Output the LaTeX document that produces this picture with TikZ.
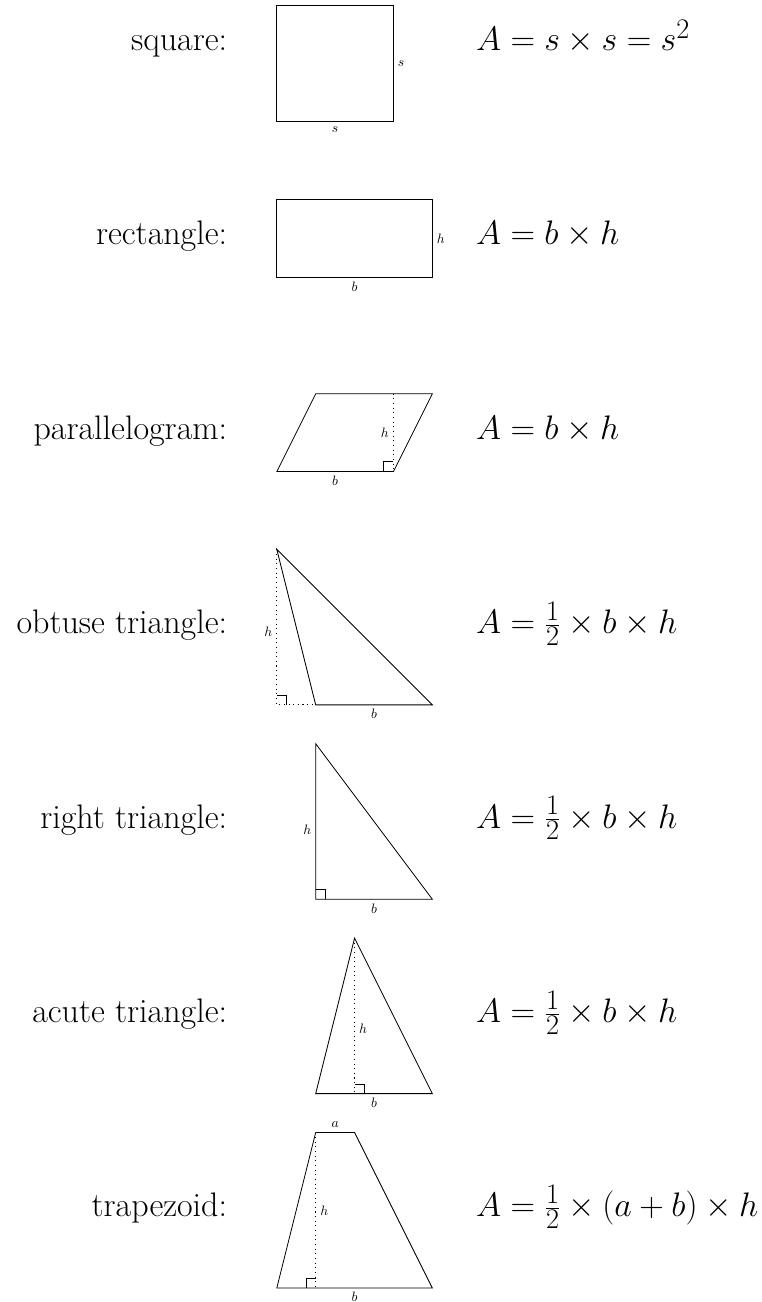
\documentclass[tikz,border=0pt]{standalone}
\usepackage{xcolor}
\usepackage{tikz}

\begin{document}
\begin{tikzpicture}[line width=0.6pt,
        shapename/.style={anchor=base east, font=\Huge},
        formula/.style={anchor=base west, font=\Huge},
        lbl/.style={font=\normalsize, inner sep=3pt},
        alt/.style={line width=0.75pt, dash pattern=on 0.75pt off 2.65pt},
        ra/.style={line width=0.6pt}]
        \useasboundingbox (-7.12,-33.36) rectangle (12.47,0.13);

        % names and formulas
        \node (t1) [shapename] at (-1.15,-1.17) {square:};
        \node (f1) [formula] at (5,-1.17) {$A = s \times s = s^2$};
        \node (t2) [shapename] at (-1.15,-6.17) {rectangle:};
        \node (f2) [formula] at (5,-6.17) {$A = b \times h$};
        \node (t3) [shapename] at (-1.15,-11.17) {parallelogram:};
        \node (f3) [formula] at (5,-11.17) {$A = b \times h$};
        \node (t4) [shapename] at (-1.15,-16.17) {obtuse triangle:};
        \node (f4) [formula] at (5,-16.17) {$A = \frac{1}{2} \times b \times h$};
        \node (t5) [shapename] at (-1.15,-21.17) {right triangle:};
        \node (f5) [formula] at (5,-21.17) {$A = \frac{1}{2} \times b \times h$};
        \node (t6) [shapename] at (-1.15,-26.17) {acute triangle:};
        \node (f6) [formula] at (5,-26.17) {$A = \frac{1}{2} \times b \times h$};
        \node (t7) [shapename] at (-1.15,-31.17) {trapezoid:};
        \node (f7) [formula] at (5,-31.17) {$A = \frac{1}{2} \times (a + b) \times h$};

        % square
        \draw (0,-3) -- node (sq-b) [lbl, below] {$s$} (3,-3) -- node (sq-s) [lbl, right] {$s$} (3,0) -- (0,0) -- cycle;

        % rectangle
        \draw (0,-7) -- node (re-b) [lbl, below] {$b$} (4,-7) -- node (re-h) [lbl, right] {$h$} (4,-5) -- (0,-5) -- cycle;

        % parallelogram
        \draw (0,-12) -- node (pa-b) [lbl, below] {$b$} (3,-12) -- (4,-10) -- (1,-10) -- cycle;
        \draw[alt] (3,-10) -- node (pa-h) [lbl, left] {$h$} (3,-12);
        \draw[ra] (2.75,-12) |- (3,-11.75);

        % obtuse triangle
        \draw (0,-14) -- (1,-18) -- node (ob-b) [lbl, below] {$b$} (4,-18) -- cycle;
        \draw[alt] (0,-14) -- node (ob-h) [lbl, left, pos=0.53] {$h$} (0,-18) -- (1,-18);
        \draw[ra] (0,-17.75) -| (0.25,-18);

        % right triangle
        \draw (1,-19) -- node (ri-h) [lbl, left, pos=0.55] {$h$} (1,-23) -- node (ri-b) [lbl, below] {$b$} (4,-23) -- cycle;
        \draw[ra] (1,-22.75) -| (1.25,-23);

        % acute triangle
        \draw (2,-24) -- (1,-28) -- node (ac-b) [lbl, below] {$b$} (4,-28) -- cycle;
        \draw[alt] (2,-24) -- node (ac-h) [lbl, right, pos=0.58] {$h$} (2,-28);
        \draw[ra] (2,-27.75) -| (2.25,-28);

        % trapezoid
        \draw (0,-33) -- node (tr-b) [lbl, below, inner sep=2.5pt] {$b$} (4,-33) -- (2,-29) -- node (tr-a) [lbl, above] {$a$} (1,-29) -- cycle;
        \draw[alt] (1,-29) -- node (tr-h) [lbl, right] {$h$} (1,-33);
        \draw[ra] (0.75,-33) |- (1,-32.75);
    \end{tikzpicture}
\end{document}
